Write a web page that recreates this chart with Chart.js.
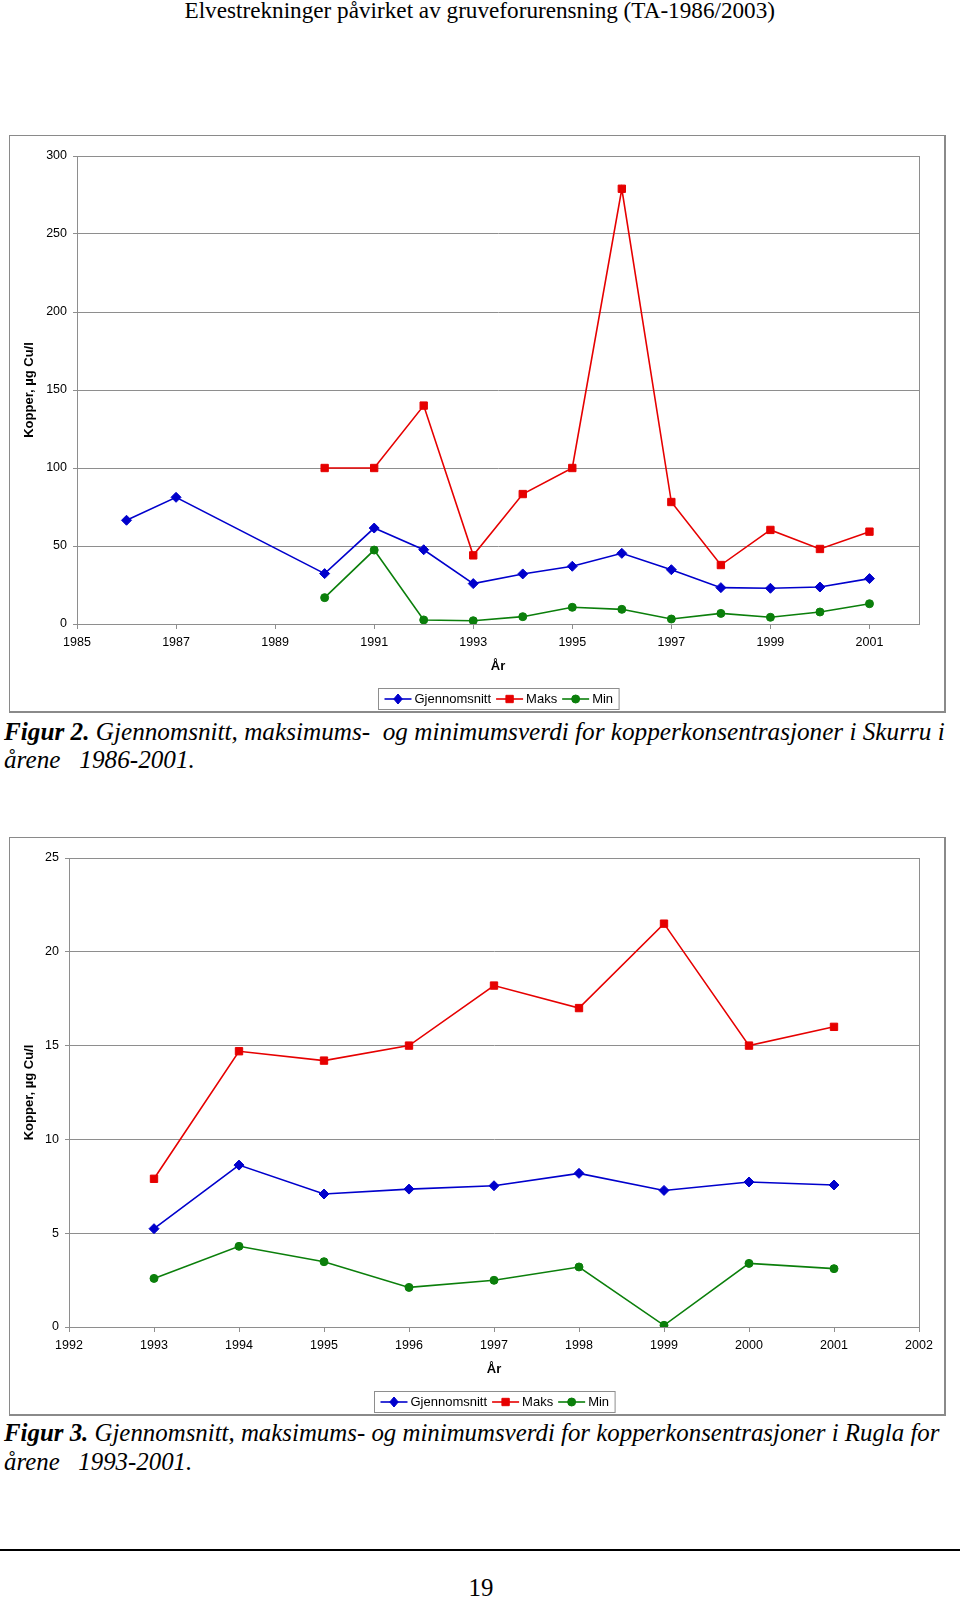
<!DOCTYPE html>
<html lang="no">
<head>
<meta charset="utf-8">
<title>Kopper i Skurru og Rugla</title>
<script src="https://cdn.jsdelivr.net/npm/chart.js@4/dist/chart.umd.min.js"></script>
<style>
  html, body { margin:0; padding:0; background:#fff; }
  body { position:relative; width:960px; height:1597px; overflow:hidden; }
  .serif { position:absolute; font-family:"Liberation Serif","Times New Roman",serif; font-size:23px; line-height:22px; color:#000; white-space:pre; }
  .box { position:absolute; box-sizing:border-box; border-style:solid; border-color:#8a8a8a; border-width:1px 2px 2px 1px; background:#fff; }
  canvas { position:absolute; }
  .rule { position:absolute; left:0; width:960px; top:1549px; height:2px; background:#000; }
</style>
</head>
<body>

<div class="serif" id="hdr" style="left:0;top:-1px;display:inline-block;">Elvestrekninger påvirket av gruveforurensning (TA-1986/2003)</div>

<div class="box" style="left:9px;top:135px;width:937px;height:578px;"></div>
<canvas id="c1" width="936" height="577" style="left:9px;top:135px;"></canvas>

<div class="serif" id="cap2a" style="left:4px;top:721px;display:inline-block;"><i><b>Figur 2.</b> Gjennomsnitt, maksimums-  og minimumsverdi for kopperkonsentrasjoner i Skurru i</i></div>
<div class="serif" id="cap2b" style="left:4px;top:749px;"><i>årene   1986-2001.</i></div>

<div class="box" style="left:9px;top:837px;width:937px;height:579px;"></div>
<canvas id="c2" width="936" height="578" style="left:9px;top:837px;"></canvas>

<div class="serif" id="cap3a" style="left:4px;top:1422px;display:inline-block;"><i><b>Figur 3.</b> Gjennomsnitt, maksimums- og minimumsverdi for kopperkonsentrasjoner i Rugla for</i></div>
<div class="serif" id="cap3b" style="left:4px;top:1451px;"><i>årene   1993-2001.</i></div>

<div class="rule"></div>
<div class="serif" id="side" style="left:0;width:962px;top:1577px;text-align:center;">19</div>

<script>
// ---------- data ----------
const serieNavn = ['Gjennomsnitt', 'Maks', 'Min'];

// Figur 2: Skurru
const aar1   = [1986, 1987, 1988, 1989, 1990, 1991, 1992, 1993, 1994, 1995, 1996, 1997, 1998, 1999, 2000, 2001];
const snitt1 = [66.5, 81.2, null, null, 32.3, 61.5, 47.6, 25.9, 32.1, 37.0, 45.3, 34.8, 23.3, 22.9, 23.7, 29.1];
const maks1  = [null, null, null, null, 100, 100, 140, 44.0, 83.3, 100, 279, 78.2, 37.8, 60.3, 48.1, 59.2];
const min1   = [null, null, null, null, 16.9, 47.4, 2.6, 2.1, 4.7, 10.7, 9.4, 3.2, 6.8, 4.3, 7.7, 13.0];
const xTicks1 = [1985, 1987, 1989, 1991, 1993, 1995, 1997, 1999, 2001];
const yTicks1 = [0, 50, 100, 150, 200, 250, 300];

// Figur 3: Rugla
const aar2   = [1993, 1994, 1995, 1996, 1997, 1998, 1999, 2000, 2001];
const snitt2 = [5.24, 8.63, 7.09, 7.35, 7.53, 8.19, 7.28, 7.73, 7.57];
const maks2  = [7.9, 14.7, 14.2, 15.0, 18.2, 17.0, 21.5, 15.0, 16.0];
const min2   = [2.59, 4.30, 3.48, 2.11, 2.49, 3.20, 0.09, 3.39, 3.11];
const xTicks2 = [1992, 1993, 1994, 1995, 1996, 1997, 1998, 1999, 2000, 2001, 2002];
const yTicks2 = [0, 5, 10, 15, 20, 25];

const yTittel = 'Kopper, µg Cu/l';
const xTittel = 'År';

// ---------- styling ----------
const FAM = "'Liberation Sans', Arial, Helvetica, sans-serif";
const GRID = '#8e8e8e';
const farger = ['#0000cc', '#e60000', '#0b7f0b'];
const stiler = ['rectRot', 'rect', 'circle'];
const radier = [5.0, 5.2, 4.0];

Chart.defaults.font.family = FAM;
Chart.defaults.color = '#000';

function drawMarker(ctx, style, x, y, r, color) {
  ctx.save();
  ctx.fillStyle = color; ctx.strokeStyle = color; ctx.lineWidth = 1;
  ctx.beginPath();
  if (style === 'rectRot') {
    ctx.moveTo(x, y - r); ctx.lineTo(x + r * 0.85, y); ctx.lineTo(x, y + r); ctx.lineTo(x - r * 0.85, y); ctx.closePath();
  } else if (style === 'rect') {
    const s = r * Math.SQRT1_2;
    ctx.rect(x - s, y - s, 2 * s, 2 * s);
  } else {
    ctx.arc(x, y, r, 0, Math.PI * 2);
  }
  ctx.fill(); ctx.stroke();
  ctx.restore();
}

const plotFrame = {
  id: 'plotFrame',
  beforeDatasetsDraw(chart) {
    const {ctx, chartArea: a} = chart;
    ctx.save();
    ctx.strokeStyle = GRID; ctx.lineWidth = 1;
    ctx.strokeRect(Math.round(a.left) + 0.5, Math.round(a.top) + 0.5, Math.round(a.right - a.left), Math.round(a.bottom - a.top));
    ctx.restore();
  }
};

const excelLegend = {
  id: 'excelLegend',
  afterDraw(chart, args, opts) {
    const ctx = chart.ctx, a = chart.chartArea;
    ctx.save();
    ctx.font = '13px ' + FAM;
    const pad = 6, lineW = 27, gap = 3, itemGap = 5, h = 21;
    const items = chart.data.datasets.map(ds => ({ds, w: ctx.measureText(ds.label).width}));
    const total = pad * 2 + items.reduce((s, it) => s + lineW + gap + it.w, 0) + itemGap * (items.length - 1);
    const x0 = Math.round((a.left + a.right) / 2 - total / 2) + 0.5;
    const top = Math.round(a.bottom + opts.offset) + 0.5;
    ctx.fillStyle = '#fff'; ctx.fillRect(x0, top, total, h);
    ctx.strokeStyle = GRID; ctx.lineWidth = 1; ctx.strokeRect(x0, top, total, h);
    let x = x0 + pad;
    const cy = top + h / 2;
    items.forEach(it => {
      ctx.strokeStyle = it.ds.borderColor; ctx.lineWidth = it.ds.borderWidth;
      ctx.beginPath(); ctx.moveTo(x, cy); ctx.lineTo(x + lineW, cy); ctx.stroke();
      drawMarker(ctx, it.ds.pointStyle, x + lineW / 2, cy, it.ds.pointRadius, it.ds.pointBackgroundColor);
      x += lineW + gap;
      ctx.fillStyle = '#000'; ctx.textAlign = 'left'; ctx.textBaseline = 'middle';
      ctx.fillText(it.ds.label, x, cy + 0.5);
      x += it.w + itemGap;
    });
    ctx.restore();
  }
};

function lagDatasett(aar, serier) {
  return serier.map((vals, i) => ({
    label: serieNavn[i],
    data: aar.map((x, k) => ({x: x, y: vals[k]})),
    borderColor: farger[i],
    backgroundColor: farger[i],
    pointBackgroundColor: farger[i],
    pointBorderColor: farger[i],
    pointStyle: stiler[i],
    pointRadius: radier[i],
    pointBorderWidth: 1,
    borderWidth: 1.6,
    tension: 0,
    spanGaps: true,
    fill: false
  }));
}

function lagGraf(id, aar, serier, xTicks, xMax, yTicks, yWidth) {
  const tickFont = {family: FAM, size: 12.5};
  const titleFont = {family: FAM, size: 13, weight: 'bold'};
  return new Chart(document.getElementById(id), {
    type: 'line',
    data: {datasets: lagDatasett(aar, serier)},
    options: {
      responsive: false,
      animation: false,
      devicePixelRatio: 1,
      events: [],
      layout: {padding: {top: 21, right: 26, left: 0, bottom: 0}},
      plugins: {legend: {display: false}, tooltip: {enabled: false}, excelLegend: {offset: 64}},
      scales: {
        x: {
          type: 'linear',
          min: xTicks[0],
          max: xMax,
          afterBuildTicks: s => { s.ticks = xTicks.map(v => ({value: v})); },
          afterFit: s => { s.height = 88; },
          grid: {display: true, drawOnChartArea: false, drawTicks: true, tickLength: 5, color: GRID, lineWidth: 1},
          border: {display: true, color: GRID, width: 1},
          ticks: {font: tickFont, color: '#000', padding: 6, maxRotation: 0, autoSkip: false, callback: v => String(v)},
          title: {display: true, text: xTittel, font: titleFont, color: '#000', padding: {top: 0, bottom: 38}}
        },
        y: {
          type: 'linear',
          min: yTicks[0],
          max: yTicks[yTicks.length - 1],
          afterBuildTicks: s => { s.ticks = yTicks.map(v => ({value: v})); },
          afterFit: s => { s.width = yWidth; },
          grid: {display: true, drawTicks: true, tickLength: 4, color: GRID, lineWidth: 1},
          border: {display: true, color: GRID, width: 1},
          ticks: {font: tickFont, color: '#000', padding: 6, callback: v => String(v)},
          title: {display: true, text: yTittel, font: titleFont, color: '#000', padding: {top: 13, bottom: 0}}
        }
      }
    },
    plugins: [plotFrame, excelLegend]
  });
}

lagGraf('c1', aar1, [snitt1, maks1, min1], xTicks1, 2002, yTicks1, 68);
lagGraf('c2', aar2, [snitt2, maks2, min2], xTicks2, 2002, yTicks2, 60);

// fit text lines to the widths measured in the reference page
function fit(id, target, partners) {
  const el = document.getElementById(id);
  el.style.fontSize = '23px';
  const w = el.getBoundingClientRect().width;
  const fs = 23 * target / w;
  el.style.fontSize = fs + 'px';
  (partners || []).forEach(p => { document.getElementById(p).style.fontSize = fs + 'px'; });
  return fs;
}
function doFit() {
  fit('cap2a', 941, ['cap2b']);
  const fs = fit('cap3a', 936, ['cap3b']);
  document.getElementById('side').style.fontSize = fs + 'px';
  const h = document.getElementById('hdr');
  fit('hdr', 591);
  h.style.left = (480 - 591 / 2) + 'px';
}
doFit();
if (document.fonts && document.fonts.ready) document.fonts.ready.then(doFit);
</script>
</body>
</html>
